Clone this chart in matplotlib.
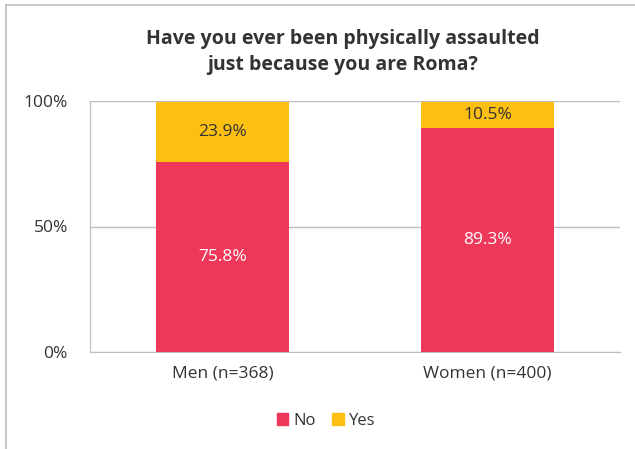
import matplotlib.pyplot as plt
from matplotlib.lines import Line2D
from matplotlib.patches import Patch

# Data
categories = ['Men (n=368)', 'Women (n=400)']
no_values = [75.8, 89.3]
yes_values = [23.9, 10.5]
series_labels = ['No', 'Yes']

red = '#EE3859'
yellow = '#FCBF12'
grid_color = '#BDBDBD'
text_color = '#333333'

plt.rcParams['font.family'] = ['Open Sans', 'DejaVu Sans']

fig = plt.figure(figsize=(6.35, 4.49), dpi=100, facecolor='white')
ax = fig.add_axes([90 / 635, 1 - 352 / 449, 530 / 635, 251 / 449])

x = range(len(categories))
ax.bar(x, no_values, width=0.5, color=red, zorder=3)
ax.bar(x, yes_values, width=0.5, bottom=no_values, color=yellow, zorder=3)

# Value labels
for i in x:
    ax.text(i, no_values[i] / 2, f'{no_values[i]}%', ha='center', va='center',
            color='white', fontsize=12.5, zorder=4)
    ax.text(i, no_values[i] + yes_values[i] / 2, f'{yes_values[i]}%', ha='center',
            va='center', color=text_color, fontsize=12.5, zorder=4)

ax.set_xlim(-0.5, 1.5)
ax.set_ylim(0, 100)
ax.set_yticks([0, 50, 100])
ax.set_yticklabels(['0%', '50%', '100%'])
ax.set_xticks(list(x))
ax.set_xticklabels(categories)
ax.tick_params(axis='both', length=0, labelcolor=text_color)
ax.tick_params(axis='y', pad=16, labelsize=12.5)
ax.tick_params(axis='x', pad=10, labelsize=12.5)

ax.yaxis.grid(True, color=grid_color, linewidth=1, zorder=0)
for s in ['top', 'right']:
    ax.spines[s].set_visible(False)
ax.spines['left'].set_color(grid_color)
ax.spines['bottom'].set_color(grid_color)

fig.text(343 / 635, 1 - 52 / 449, 'Have you ever been physically assaulted\njust because you are Roma?',
         ha='center', va='center', fontsize=14, fontweight='bold', color=text_color,
         linespacing=1.45)

handles = [Patch(color=red), Patch(color=yellow)]
fig.legend(handles, series_labels, loc='center', bbox_to_anchor=(326 / 635, 1 - 421 / 449),
           ncol=2, frameon=False, fontsize=12, handlelength=0.7, handleheight=0.7,
           handletextpad=0.3, columnspacing=1.0, labelcolor=text_color)

# Figure border (top and left edges only)
fig.add_artist(Line2D([6 / 635, 6 / 635], [0, 1 - 5 / 449], transform=fig.transFigure,
                      color=grid_color, linewidth=1.2))
fig.add_artist(Line2D([6 / 635, 1], [1 - 5 / 449, 1 - 5 / 449], transform=fig.transFigure,
                      color=grid_color, linewidth=1.2))

fig.savefig('out.png', dpi=100)
